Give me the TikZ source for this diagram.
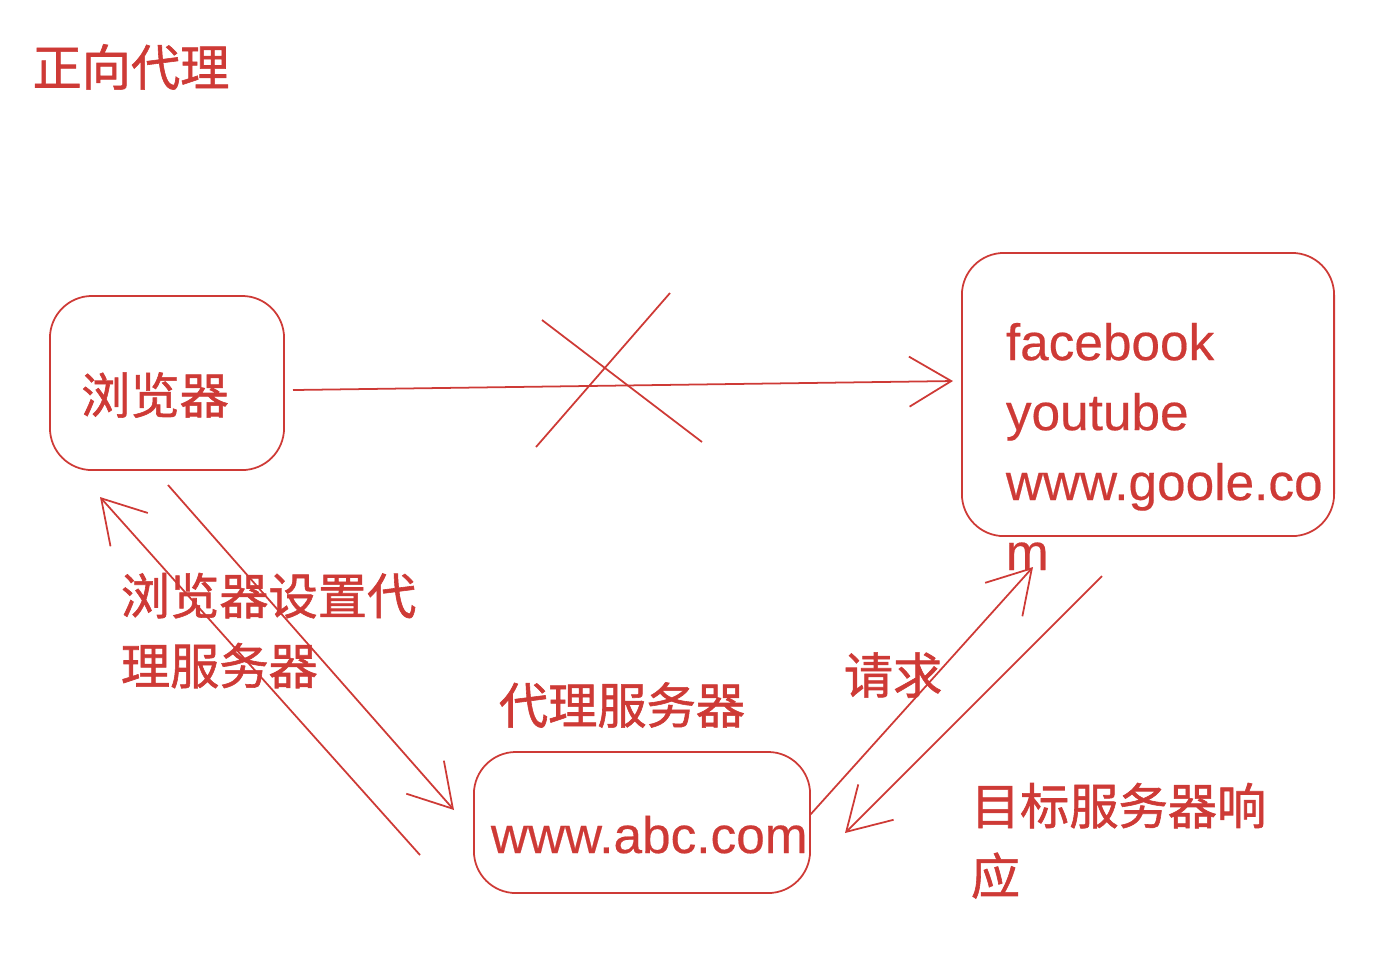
\documentclass[tikz,border=0pt]{standalone}
\usepackage{fontspec}
\setmainfont{Liberation Sans}[FakeBold=0.4]
\newfontfamily\cjk{Noto Sans CJK SC}[FakeBold=1.2]
\usetikzlibrary{arrows.meta, positioning}
\definecolor{penred}{RGB}{206,58,54}

\begin{document}
\begin{tikzpicture}[x=0.01cm, y=-0.01cm, line width=0.5pt, penred,
    box/.style={draw=penred, rounded corners=0.42cm, inner sep=0pt},
    zh/.style={font=\cjk\fontsize{14pt}{19.9pt}\selectfont, text=penred, inner sep=0pt},
    en/.style={font=\fontsize{14.6pt}{19.9pt}\selectfont, text=penred, inner sep=0pt},
    link/.style={draw=penred, -{Straight Barb[length=0.42cm, width=0.5cm]}}]
        \useasboundingbox (0,0) rectangle (1394,956);

        % Title
        \node[zh] (title) at (131,67) {正向代理};

        % Browser
        \node[box, minimum width=2.34cm, minimum height=1.74cm] (browser) at (167,383) {};
        \node[zh] (browserlabel) at (155,395) {浏览器};

        % Target sites
        \node[box, minimum width=3.72cm, minimum height=2.83cm] (target) at (1148,394.5) {};
        \node[en, align=left, anchor=north west] (sites) at (1005,322) {facebook\\youtube\\www.goole.co\\m};

        % Proxy server
        \node[box, minimum width=3.36cm, minimum height=1.41cm] (proxy) at (642,822.5) {};
        \node[en, anchor=base west] (proxyurl) at (490,853) {www.abc.com};
        \node[zh] (proxylabel) at (622,705) {代理服务器};

        % Labels
        \node[zh, align=left, anchor=north west] (setlabel) at (120,572) {浏览器设置代\\理服务器};
        \node[zh] (reqlabel) at (893,675) {请求};
        \node[zh, align=left, anchor=north west] (resplabel) at (970,782) {目标服务器响\\应};

        % Direct access (blocked)
        \coordinate (directfrom) at (293,390);
        \coordinate (directto) at (953,381);
        \draw[link] (directfrom) -- (directto);
        \coordinate (crossa) at (542,320);
        \coordinate (crossb) at (702,442);
        \coordinate (crossc) at (670,293);
        \coordinate (crossd) at (536,447);
        \draw (crossa) -- (crossb);
        \draw (crossc) -- (crossd);

        % Browser <-> proxy
        \coordinate (b2pfrom) at (168,485);
        \coordinate (b2pto) at (454,810);
        \draw[link] (b2pfrom) -- (b2pto);
        \coordinate (p2bfrom) at (420,855);
        \coordinate (p2bto) at (100,497);
        \draw[link] (p2bfrom) -- (p2bto);

        % Proxy <-> target
        \coordinate (p2tfrom) at (810,815);
        \coordinate (p2tto) at (1033,567);
        \draw[link] (p2tfrom) -- (p2tto);
        \coordinate (t2pfrom) at (1102,576);
        \coordinate (t2pto) at (845,833);
        \draw[link] (t2pfrom) -- (t2pto);

    \end{tikzpicture}
\end{document}
